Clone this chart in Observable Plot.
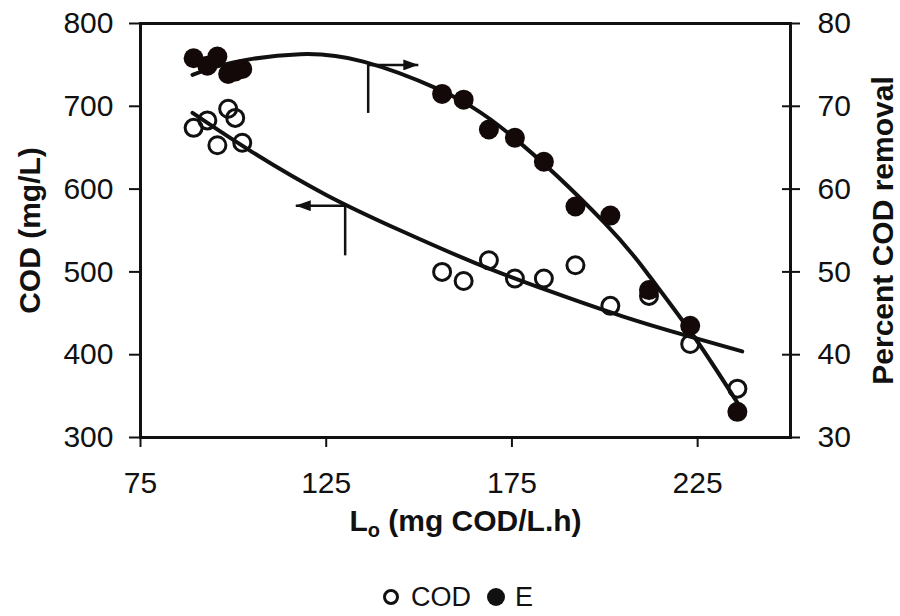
<!DOCTYPE html>
<html>
<head>
<meta charset="utf-8">
<script src="https://cdn.jsdelivr.net/npm/d3@7"></script>
<script src="https://cdn.jsdelivr.net/npm/@observablehq/plot@0.6"></script>
<style>
  html, body { margin: 0; padding: 0; background: white; }
  #chart { width: 900px; }
  #legend { width: 900px; height: 54px; display: flex; justify-content: center; align-items: center;
            font-family: "Liberation Sans", Arial, sans-serif; font-size: 27px; color: #111; padding-left: 18px; box-sizing: border-box; }
  #legend span { margin: 0 4px; }
  g[aria-label="y-axis label"] text, g[aria-label="x-axis label"] text { font-weight: bold; font-size: 30px; }
</style>
</head>
<body>
<div id="chart"></div>
<div id="legend"></div>
<script>
// ---- data ----
const loading = [89.3, 93, 95.7, 98.6, 100.5, 102.4, 156.2, 162, 168.8, 175.8, 183.6, 192.1, 201.5, 211.9, 223, 235.7];
const codValues = [674, 683, 653, 697, 686, 656, 500, 489, 514, 492, 492, 508, 459, 471, 413, 359];
const removalValues = [75.8, 74.9, 76.0, 73.9, 74.2, 74.5, 71.5, 70.8, 67.2, 66.2, 63.3, 57.9, 56.8, 47.8, 43.5, 33.1];

// trend curves
const codFitX = [89, 105, 125, 145, 165, 185, 205, 222, 237];
const codFitY = [692, 645, 593, 550, 511, 477, 446, 423, 404];
const eFitX = [89, 100, 118, 135, 155, 175, 200, 212, 224, 236];
const eFitY = [73.8, 75.3, 76.3, 75.4, 72.1, 66.4, 55.9, 49.5, 42.2, 34.0];

// annotation arrows (data units: x = Lo, y = COD scale)
const arrowE = {x0: 136.3, x1: 149.8, y: 750, yLow: 692};
const arrowCOD = {x0: 130.1, x1: 116.8, y: 580, yLow: 520};

const xTicks = [75, 125, 175, 225];
const yTicks = [300, 400, 500, 600, 700, 800];
const rightTicks = [30, 40, 50, 60, 70, 80];

// map percent removal (30–80) onto the COD scale (300–800)
const eToY = p => 300 + (p - 30) * 10;
const yToE = y => (y - 300) / 10 + 30;

const pts = loading.map((L, i) => ({L, cod: codValues[i], e: eToY(removalValues[i])}));
const codFit = codFitX.map((x, i) => ({x, y: codFitY[i]}));
const eFit = eFitX.map((x, i) => ({x, y: eToY(eFitY[i])}));

const ink = "#111";

// filled triangular arrow head
const filledHead = (color) => d3.create("svg:marker")
  .attr("viewBox", "-15 -5.5 15 11")
  .attr("markerWidth", 15).attr("markerHeight", 11)
  .attr("markerUnits", "userSpaceOnUse")
  .attr("orient", "auto")
  .attr("fill", color).attr("stroke", "none")
  .call(m => m.append("path").attr("d", "M-15,-5.5L0,0L-15,5.5Z"))
  .node();

const chart = Plot.plot({
  width: 900,
  height: 570,
  marginLeft: 140,
  marginRight: 110,
  marginTop: 23,
  marginBottom: 133,
  style: {fontFamily: "'Liberation Sans', Arial, sans-serif", fontSize: "30px", color: ink, background: "white", overflow: "visible"},
  x: {domain: [75, 250]},
  y: {domain: [300, 800]},
  marks: [
    Plot.frame({stroke: ink, strokeWidth: 3}),
    Plot.axisX({ticks: xTicks, tickSize: 10, tickPadding: 24, strokeWidth: 2, fontSize: 30,
      label: "Lo (mg COD/L.h)", labelAnchor: "center", labelArrow: false, labelOffset: 93}),
    Plot.axisY({anchor: "left", ticks: yTicks, tickSize: 11, tickPadding: 16, strokeWidth: 2, fontSize: 30,
      label: "COD (mg/L)", labelAnchor: "center", labelArrow: false, labelOffset: 122}),
    Plot.axisY({anchor: "right", ticks: yTicks, tickSize: 18, dx: -9, strokeWidth: 2, tickFormat: () => "", label: null}),
    Plot.axisY({anchor: "right", ticks: rightTicks.map(eToY), tickSize: 0, tickPadding: 27, fontSize: 30,
      tickFormat: d => String(yToE(d)),
      label: "Percent COD removal", labelAnchor: "center", labelArrow: false, labelOffset: 102}),
    // trend curves
    Plot.line(codFit, {x: "x", y: "y", curve: "natural", stroke: ink, strokeWidth: 4}),
    Plot.line(eFit, {x: "x", y: "y", curve: "natural", stroke: ink, strokeWidth: 4}),
    // annotation arrows
    Plot.link([arrowE], {x1: "x0", x2: "x1", y1: "y", y2: "y", stroke: ink, strokeWidth: 2.5, markerEnd: filledHead}),
    Plot.link([arrowE], {x1: "x0", x2: "x0", y1: "y", y2: "yLow", stroke: ink, strokeWidth: 2.5}),
    Plot.link([arrowCOD], {x1: "x0", x2: "x1", y1: "y", y2: "y", stroke: ink, strokeWidth: 2.5, markerEnd: filledHead}),
    Plot.link([arrowCOD], {x1: "x0", x2: "x0", y1: "y", y2: "yLow", stroke: ink, strokeWidth: 2.5}),
    // data points
    Plot.dot(pts, {x: "L", y: "cod", r: 8.5, stroke: ink, strokeWidth: 3, fill: "none"}),
    Plot.dot(pts, {x: "L", y: "e", r: 10, fill: "#140909", stroke: "none"})
  ]
});

// subscript o in the x label
const xl = chart.querySelector('g[aria-label="x-axis label"] text');
if (xl) {
  const NS = "http://www.w3.org/2000/svg";
  xl.textContent = "";
  const t1 = document.createElementNS(NS, "tspan"); t1.textContent = "L";
  const t2 = document.createElementNS(NS, "tspan"); t2.textContent = "o";
  t2.setAttribute("font-size", "20px"); t2.setAttribute("dy", "6");
  const t3 = document.createElementNS(NS, "tspan"); t3.textContent = " (mg COD/L.h)";
  t3.setAttribute("dy", "-6");
  xl.append(t1, t2, t3);
}
document.getElementById("chart").append(chart);

// legend
document.getElementById("legend").innerHTML =
  '<svg width="20" height="20" style="margin-right:6px"><circle cx="10" cy="10" r="6.5" fill="none" stroke="#111" stroke-width="3"/></svg>' +
  '<span>COD</span>' +
  '<svg width="22" height="22" style="margin:0 4px 0 10px"><circle cx="11" cy="11" r="9" fill="#111"/></svg>' +
  '<span>E</span>';
</script>
</body>
</html>
